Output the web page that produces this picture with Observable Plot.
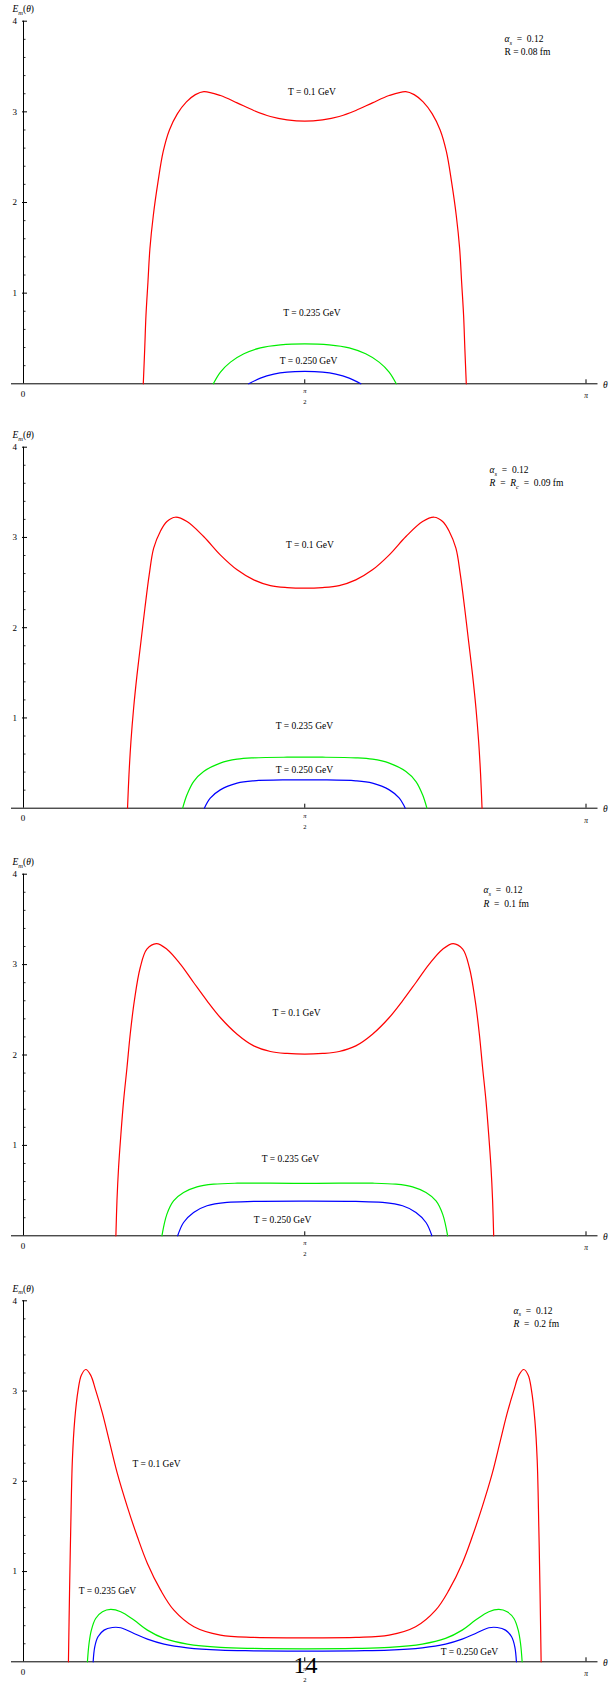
<!DOCTYPE html>
<html>
<head>
<meta charset="utf-8">
<script src="https://cdn.jsdelivr.net/npm/d3@7"></script>
<script src="https://cdn.jsdelivr.net/npm/@observablehq/plot@0.6"></script>
<style>
  body { margin: 0; background: #fff; }
  #chart svg { display: block; }
</style>
</head>
<body>
<div id="chart"></div>
<script>
const PI = Math.PI;

// ---- axis ticks and labels ----
const yMajorTicks = [1, 2, 3, 4];
const yMinorTicks = [0.2, 0.4, 0.6, 0.8, 1.2, 1.4, 1.6, 1.8, 2.2, 2.4, 2.6, 2.8, 3.2, 3.4, 3.6, 3.8];
const yTickLabels = ["1", "2", "3", "4"];
const xTicks = [PI / 2, PI];
const xZeroLabel = "0";
const xHalfPiLabel = ["π", "2"];
const xPiLabel = "π";
const yAxisTitle = "Em(θ)";
const xAxisTitle = "θ";
const pageNumber = "14";

// ---- texts ----
const tempLabels = ["T = 0.1 GeV", "T = 0.235 GeV", "T = 0.250 GeV"];
const alphaText = "αs = 0.12";
const radiusTexts = ["R = 0.08 fm", "R = Rc = 0.09 fm", "R = 0.1 fm", "R = 0.2 fm"];

// ---- data: [theta, E_m] ----
const p1Red = [[0.669,0],[0.677,0.386],[0.684,0.754],[0.695,1.121],[0.706,1.489],[0.725,1.857],[0.751,2.224],[0.780,2.560],[0.815,2.800],[0.860,2.980],[0.910,3.110],[0.960,3.190],[1.007,3.224],[1.100,3.180],[1.193,3.099],[1.286,3.015],[1.379,2.949],[1.472,2.912],[1.571,2.897],[1.670,2.912],[1.763,2.949],[1.856,3.015],[1.949,3.099],[2.042,3.180],[2.135,3.224],[2.182,3.190],[2.232,3.110],[2.282,2.980],[2.327,2.800],[2.362,2.560],[2.391,2.224],[2.417,1.857],[2.436,1.489],[2.447,1.121],[2.458,0.754],[2.465,0.386],[2.473,0]];
const p1Green = [[1.060,0],[1.100,0.129],[1.156,0.239],[1.231,0.331],[1.323,0.397],[1.435,0.430],[1.571,0.441],[1.707,0.430],[1.819,0.397],[1.911,0.331],[1.986,0.239],[2.042,0.129],[2.082,0]];
const p1Blue = [[1.258,0],[1.323,0.0625],[1.398,0.107],[1.472,0.129],[1.571,0.136],[1.670,0.129],[1.744,0.107],[1.819,0.0625],[1.884,0]];

const p2Red = [[0.581,0],[0.589,0.369],[0.600,0.739],[0.615,1.108],[0.634,1.477],[0.656,1.847],[0.678,2.216],[0.702,2.585],[0.727,2.881],[0.764,3.066],[0.801,3.176],[0.848,3.224],[0.913,3.176],[1.006,3.010],[1.099,2.807],[1.193,2.641],[1.286,2.530],[1.379,2.467],[1.472,2.445],[1.571,2.438],[1.670,2.445],[1.763,2.467],[1.856,2.530],[1.949,2.641],[2.043,2.807],[2.136,3.010],[2.229,3.176],[2.294,3.224],[2.341,3.176],[2.378,3.066],[2.415,2.881],[2.440,2.585],[2.464,2.216],[2.486,1.847],[2.508,1.477],[2.527,1.108],[2.542,0.739],[2.553,0.369],[2.561,0]];
const p2Green = [[0.889,0],[0.913,0.148],[0.950,0.295],[1.006,0.406],[1.099,0.499],[1.193,0.543],[1.286,0.558],[1.472,0.565],[1.571,0.565],[1.670,0.565],[1.856,0.558],[1.949,0.543],[2.043,0.499],[2.136,0.406],[2.192,0.295],[2.229,0.148],[2.253,0]];
const p2Blue = [[1.010,0],[1.043,0.111],[1.099,0.203],[1.193,0.277],[1.286,0.303],[1.472,0.314],[1.571,0.314],[1.670,0.314],[1.856,0.303],[1.949,0.277],[2.043,0.203],[2.099,0.111],[2.132,0]];

const p3Red = [[0.516,0],[0.522,0.387],[0.531,0.756],[0.544,1.124],[0.559,1.493],[0.578,1.862],[0.596,2.230],[0.619,2.599],[0.652,2.968],[0.689,3.170],[0.742,3.233],[0.801,3.170],[0.876,3.005],[0.950,2.802],[1.025,2.599],[1.099,2.415],[1.193,2.230],[1.286,2.101],[1.379,2.039],[1.472,2.017],[1.571,2.009],[1.670,2.017],[1.763,2.039],[1.856,2.101],[1.949,2.230],[2.043,2.415],[2.117,2.599],[2.192,2.802],[2.266,3.005],[2.341,3.170],[2.400,3.233],[2.453,3.170],[2.490,2.968],[2.523,2.599],[2.546,2.230],[2.564,1.862],[2.583,1.493],[2.598,1.124],[2.611,0.756],[2.620,0.387],[2.626,0]];
const p3Green = [[0.773,0],[0.801,0.240],[0.838,0.387],[0.894,0.479],[0.969,0.542],[1.062,0.571],[1.193,0.582],[1.379,0.582],[1.571,0.579],[1.763,0.582],[1.949,0.582],[2.080,0.571],[2.173,0.542],[2.248,0.479],[2.304,0.387],[2.341,0.240],[2.369,0]];
const p3Blue = [[0.861,0],[0.894,0.147],[0.950,0.258],[1.025,0.332],[1.137,0.369],[1.286,0.380],[1.571,0.383],[1.856,0.380],[2.005,0.369],[2.117,0.332],[2.192,0.258],[2.248,0.147],[2.281,0]];

const p4Red = [[0.251,0],[0.257,0.757],[0.264,1.496],[0.273,2.235],[0.286,2.678],[0.305,3.010],[0.323,3.176],[0.348,3.239],[0.375,3.176],[0.403,3.010],[0.441,2.752],[0.478,2.456],[0.524,2.087],[0.580,1.717],[0.636,1.385],[0.692,1.090],[0.766,0.794],[0.840,0.572],[0.952,0.388],[1.100,0.295],[1.286,0.270],[1.571,0.266],[1.856,0.270],[2.042,0.295],[2.190,0.388],[2.302,0.572],[2.376,0.794],[2.450,1.090],[2.506,1.385],[2.562,1.717],[2.618,2.087],[2.664,2.456],[2.701,2.752],[2.739,3.010],[2.767,3.176],[2.794,3.239],[2.819,3.176],[2.837,3.010],[2.856,2.678],[2.869,2.235],[2.878,1.496],[2.885,0.757],[2.891,0]];
const p4Green = [[0.357,0],[0.366,0.203],[0.379,0.351],[0.403,0.480],[0.441,0.554],[0.487,0.580],[0.543,0.554],[0.617,0.462],[0.692,0.351],[0.785,0.259],[0.915,0.196],[1.100,0.159],[1.286,0.148],[1.571,0.144],[1.856,0.148],[2.042,0.159],[2.227,0.196],[2.357,0.259],[2.450,0.351],[2.525,0.462],[2.599,0.554],[2.655,0.580],[2.701,0.554],[2.739,0.480],[2.763,0.351],[2.776,0.203],[2.785,0]];
const p4Blue = [[0.389,0],[0.398,0.166],[0.416,0.277],[0.450,0.351],[0.496,0.380],[0.543,0.377],[0.617,0.314],[0.692,0.251],[0.785,0.196],[0.915,0.155],[1.100,0.129],[1.286,0.122],[1.571,0.118],[1.856,0.122],[2.042,0.129],[2.227,0.155],[2.357,0.196],[2.450,0.251],[2.525,0.314],[2.599,0.377],[2.646,0.380],[2.692,0.351],[2.726,0.277],[2.744,0.166],[2.753,0]];

const seriesColors = ["#ff0000", "#00ee00", "#0000ff"];

// ---- layout (positions of annotations, panel geometry) ----
const panels = [
  { series: [p1Red, p1Green, p1Blue], h: 426, top: 20.7, axis: 383.3,
    labelPos: [[1.611, 3.22], [1.611, 0.777], [1.592, 0.254]], annX: 2.686, annY: [3.80, 3.66] },
  { series: [p2Red, p2Green, p2Blue], h: 426, top: 20.7, axis: 381.7,
    labelPos: [[1.600, 2.912], [1.569, 0.909], [1.569, 0.423]], annX: 2.603, annY: [3.746, 3.599] },
  { series: [p3Red, p3Green, p3Blue], h: 426, top: 21.7, axis: 383.3,
    labelPos: [[1.525, 2.467], [1.491, 0.854], [1.447, 0.173]], annX: 2.569, annY: [3.823, 3.672] },
  { series: [p4Red, p4Green, p4Blue], h: 408, top: 22.3, axis: 383.3,
    labelPos: [[0.743, 2.188], [0.469, 0.785], [2.491, 0.114]], annX: 2.737, annY: [3.890, 3.738], page: [1.575, -0.042] }
];

const FONT = '"Liberation Serif", "Times New Roman", Times, serif';

// rich-text segments: [text, flags] where flags: i = italic, s = subscript
const rich = {
  "Em(θ)": [["E", "i"], ["m", "is"], ["("], ["θ", "i"], [")"]],
  "αs = 0.12": [["α", "i"], ["s", "is"], ["  =  0.12"]],
  "R = Rc = 0.09 fm": [["R", "i"], ["  =  "], ["R", "i"], ["c", "is"], ["  =  0.09 fm"]],
  "R = 0.1 fm": [["R", "i"], ["  =  0.1 fm"]],
  "R = 0.2 fm": [["R", "i"], ["  =  0.2 fm"]],
  "θ": [["θ", "i"]],
  "π": [["π", "i"]]
};

const root = document.getElementById("chart");

panels.forEach((P, k) => {
  const marks = [
    // axes lines
    Plot.ruleY([0], { insetLeft: -12, insetRight: -12, stroke: "#000", strokeWidth: 1 }),
    Plot.ruleX([0], { y1: 0, y2: 4, stroke: "#000", strokeWidth: 1 }),
    // ticks
    Plot.ruleY(yMajorTicks, { y: d => d, x1: 0, x2: 0, insetLeft: -1, insetRight: -4, stroke: "#000", strokeWidth: 1 }),
    Plot.ruleY(yMinorTicks, { y: d => d, x1: 0, x2: 0, insetRight: -2.5, stroke: "#000", strokeWidth: 0.8 }),
    Plot.ruleX(xTicks, { x: d => d, y1: 0, y2: 0, insetTop: -4, stroke: "#000", strokeWidth: 1 }),
    // tick labels
    Plot.text(yMajorTicks, { x: 0, y: d => d, text: (d, i) => yTickLabels[i], dx: -6.5, textAnchor: "end", fontSize: 9, fill: "#000" }),
    Plot.text([xZeroLabel], { x: 0, y: 0, text: d => d, dx: -0.5, dy: 10, fontSize: 9, fill: "#000" }),
    Plot.text([xPiLabel], { x: PI, y: 0, text: d => d, dy: 12, fontSize: 7.5, fill: "#000" }),
    Plot.text([xHalfPiLabel[0]], { x: PI / 2, y: 0, text: d => d, dy: 7.5, fontSize: 6.5, fill: "#000" }),
    Plot.text([xHalfPiLabel[1]], { x: PI / 2, y: 0, text: d => d, dy: 18.5, fontSize: 6.5, fill: "#000" }),
    // axis titles
    Plot.text([yAxisTitle], { x: 0, y: 4, text: d => d, dx: -11, dy: -12, textAnchor: "start", fontSize: 9.5, fill: "#000" }),
    Plot.text([xAxisTitle], { x: PI, y: 0, text: d => d, dx: 17, dy: 1, textAnchor: "start", fontSize: 9.5, fill: "#000" }),
    // curves
    ...P.series.map((s, j) => Plot.line(s, { x: d => d[0], y: d => d[1], stroke: seriesColors[j], strokeWidth: 1.2, curve: "catmull-rom" })),
    // curve labels
    Plot.text([0, 1, 2], { x: i => P.labelPos[i][0], y: i => P.labelPos[i][1], text: i => tempLabels[i], fontSize: 9.5, fill: "#000" }),
    // parameter annotations
    Plot.text([alphaText, radiusTexts[k]], { x: P.annX, y: (d, i) => P.annY[i], text: d => d, textAnchor: "start", fontSize: 9.5, fill: "#000" })
  ];
  if (P.page) {
    marks.push(Plot.text([pageNumber], { x: P.page[0], y: P.page[1], text: d => d, fontSize: 24, fontFamily: FONT, fill: "#000" }));
  }
  const svg = Plot.plot({
    width: 610,
    height: P.h,
    marginLeft: 23,
    marginRight: 24.5,
    marginTop: P.top,
    marginBottom: P.h - P.axis,
    x: { domain: [0, PI], axis: null },
    y: { domain: [0, 4], axis: null },
    style: { fontFamily: FONT, background: "white", overflow: "visible", color: "#000" },
    marks
  });
  // rich text (italic / subscripts)
  d3.select(svg).selectAll("text").each(function () {
    const key = this.textContent;
    const segs = rich[key];
    if (!segs) return;
    while (this.firstChild) this.removeChild(this.firstChild);
    let shifted = false;
    segs.forEach(([t, f = ""]) => {
      const ts = document.createElementNS("http://www.w3.org/2000/svg", "tspan");
      ts.textContent = t;
      ts.style.whiteSpace = "pre";
      if (f.includes("i")) ts.setAttribute("font-style", "italic");
      if (f.includes("s")) {
        ts.setAttribute("font-size", "6.5");
        if (!shifted) { ts.setAttribute("dy", "2.5"); shifted = true; }
      } else if (shifted) {
        ts.setAttribute("dy", "-2.5");
        shifted = false;
      }
      this.appendChild(ts);
    });
  });
  root.appendChild(svg);
});
</script>
</body>
</html>
